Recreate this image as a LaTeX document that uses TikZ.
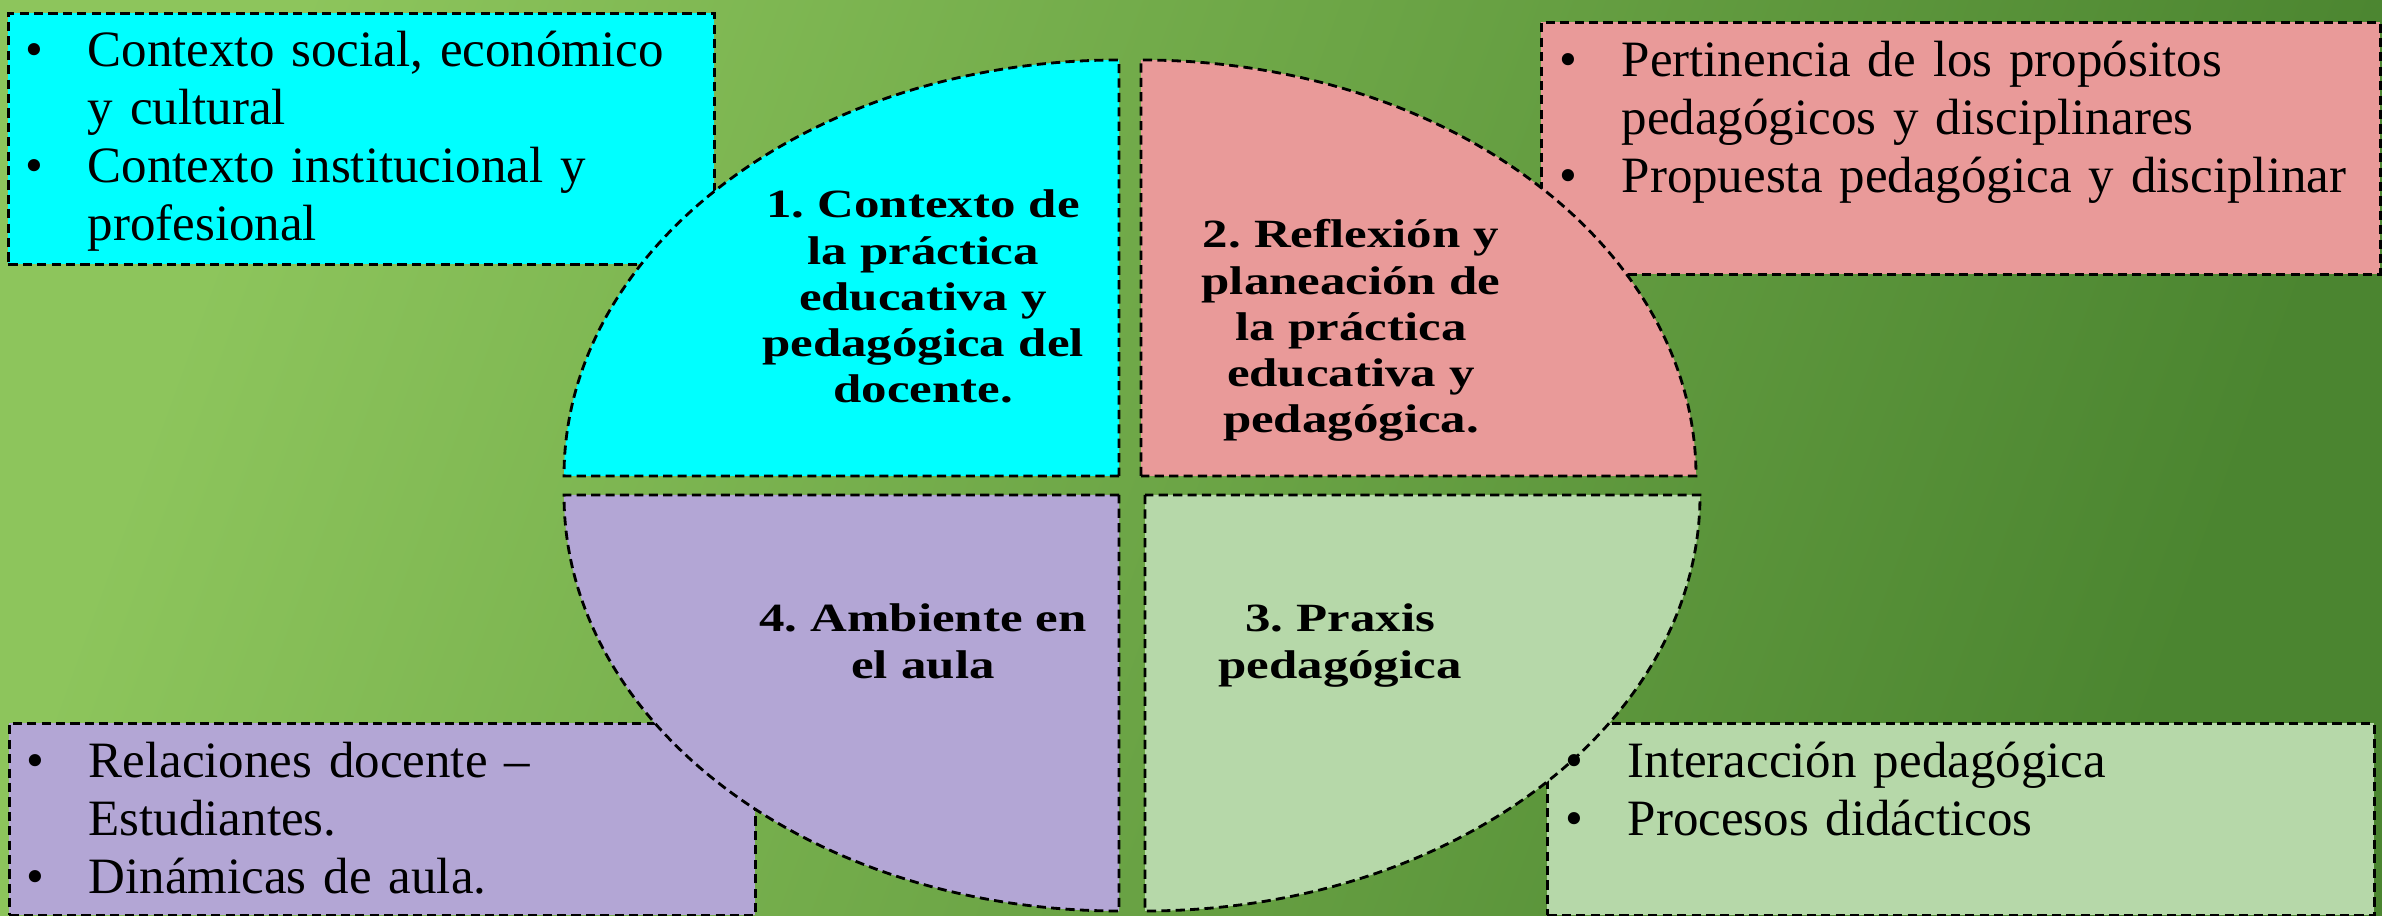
\documentclass[tikz,border=0pt]{standalone}
\usepackage{fontspec}
\setmainfont{Liberation Serif}[WordSpace=0.75]
\newfontfamily\quadfont[FakeStretch=1.27, WordSpace=0.7]{Liberation Serif}
\usepackage{tikz}
\usetikzlibrary{positioning}
\frenchspacing
\definecolor{bgLight}{HTML}{8DC55C}
\definecolor{bgDark}{HTML}{4B8530}
\definecolor{ctxCyan}{HTML}{00FFFF}
\definecolor{refPink}{HTML}{E99A99}
\definecolor{ambLila}{HTML}{B3A6D5}
\definecolor{praxGreen}{HTML}{B6D8A9}
\tikzstyle{panel} = [draw, dash pattern=on 2.6pt off 1.5pt, line width=0.8pt,
    inner sep=0pt, anchor=north west]
\tikzstyle{quad} = [draw, dash pattern=on 2.6pt off 1.5pt, line width=0.8pt]
\tikzstyle{listtext} = [text width=9cm, anchor=base west, inner sep=0pt,
    font=\fontsize{14.5}{16.5}\selectfont]
\tikzstyle{quadtitle} = [text width=4.5cm, anchor=base, inner sep=0pt,
    font=\quadfont\bfseries\fontsize{11.4}{13.1}\selectfont,
    execute at begin node=\centering]
\newcommand{\itembul}{\makebox[0.62cm][l]{\textbullet}}
\newcommand{\itemcont}{\hspace*{0.62cm}}

\begin{document}
\begin{tikzpicture}
    \useasboundingbox (0,0) rectangle (23.82,9.16);
    % Background
    \shade[top color=bgLight, bottom color=bgDark, shading angle=70] (0,0) rectangle (23.82,9.16);
    % Place boxes
    \node[panel, fill=ctxCyan, minimum width=7.06cm, minimum height=2.51cm] (ctxbox) at (0.07,9.04) {};
    \node[panel, fill=refPink, minimum width=8.39cm, minimum height=2.52cm] (refbox) at (15.40,8.95) {};
    \node[panel, fill=ambLila, minimum width=7.46cm, minimum height=1.92cm] (ambbox) at (0.08,1.94) {};
    \node[panel, fill=praxGreen, minimum width=8.27cm, minimum height=1.92cm] (praxbox) at (15.46,1.94) {};
    % Quadrants
    \draw[quad, fill=ctxCyan] (11.19,4.40) -- (5.64,4.40) arc[start angle=180, end angle=90, x radius=5.55, y radius=4.16] -- cycle;
    \draw[quad, fill=refPink] (11.41,4.40) -- (11.41,8.56) arc[start angle=90, end angle=0, x radius=5.55, y radius=4.16] -- cycle;
    \draw[quad, fill=ambLila] (11.19,4.21) -- (5.64,4.21) arc[start angle=180, end angle=270, x radius=5.55, y radius=4.16] -- cycle;
    \draw[quad, fill=praxGreen] (11.45,4.21) -- (11.45,0.05) arc[start angle=270, end angle=360, x radius=5.55, y radius=4.16] -- cycle;
    % Quadrant titles
    \node[quadtitle] (ctxtitle) at (9.23,6.98) {1. Contexto de\\ la práctica\\ educativa y\\ pedagógica del\\ docente.};
    \node[quadtitle] (reftitle) at (13.51,6.68) {2. Reflexión y\\ planeación de\\ la práctica\\ educativa y\\ pedagógica.};
    \node[quadtitle] (ambtitle) at (9.23,2.84) {4. Ambiente en\\ el aula};
    \node[quadtitle] (praxtitle) at (13.40,2.84) {3. Praxis\\ pedagógica};
    % Box texts
    \node[listtext] (ctxlist) at (0.25,8.49) {\itembul Contexto social, económico\\ \itemcont y cultural\\ \itembul Contexto institucional y\\ \itemcont profesional};
    \node[listtext] (reflist) at (15.59,8.39) {\itembul Pertinencia de los propósitos\\ \itemcont pedagógicos y disciplinares\\ \itembul Propuesta pedagógica y disciplinar};
    \node[listtext] (amblist) at (0.26,1.38) {\itembul Relaciones docente --\\ \itemcont Estudiantes.\\ \itembul Dinámicas de aula.};
    \node[listtext] (praxlist) at (15.65,1.38) {\itembul Interacción pedagógica\\ \itembul Procesos didácticos};
\end{tikzpicture}
\end{document}
